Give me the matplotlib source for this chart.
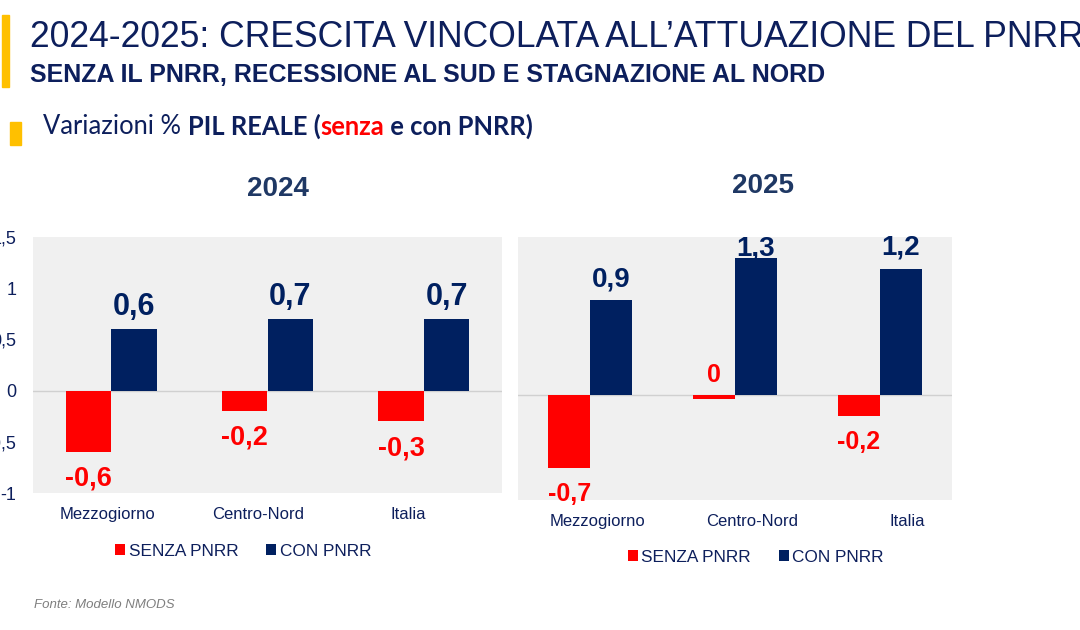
import matplotlib.pyplot as plt
from matplotlib.patches import Rectangle
from matplotlib.transforms import ScaledTranslation
import numpy as np

plt.rcParams['font.family'] = ['Liberation Sans', 'DejaVu Sans']

categories = ['Mezzogiorno', 'Centro-Nord', 'Italia']
senza_2024 = [-0.6, -0.2, -0.3]
con_2024 = [0.6, 0.7, 0.7]
senza_2025 = [-0.7, -0.04, -0.2]
con_2025 = [0.9, 1.3, 1.2]
senza_2024_lbl = ['-0,6', '-0,2', '-0,3']
con_2024_lbl = ['0,6', '0,7', '0,7']
senza_2025_lbl = ['-0,7', '0', '-0,2']
con_2025_lbl = ['0,9', '1,3', '1,2']
yticks = [-1, -0.5, 0, 0.5, 1, 1.5]
ytick_lbl = ['-1', '-0,5', '0', '0,5', '1', '1,5']

RED = '#FF0000'
NAVY = '#002060'
TXT = '#0D1F5C'
W, H = 1080, 630

fig = plt.figure(figsize=(10.8, 6.3), dpi=100)


def px(x, y):
    return x / W, 1 - y / H


# yellow markers
fig.patches.append(Rectangle(px(2, 87), 7 / W, 72 / H, transform=fig.transFigure, color='#FFC000'))
fig.patches.append(Rectangle(px(10, 145), 11 / W, 23 / H, transform=fig.transFigure, color='#FFC000'))

fig.text(*px(30, 47), "2024-2025: CRESCITA VINCOLATA ALL\u2019ATTUAZIONE DEL PNRR",
         fontsize=25.6, color=TXT, va='baseline')
fig.text(*px(30, 82), "SENZA IL PNRR, RECESSIONE AL SUD E STAGNAZIONE AL NORD",
         fontsize=18, color=TXT, va='baseline', fontweight='bold')

# subtitle with mixed styles
t1 = fig.text(*px(43, 139), "Variazioni % ", fontsize=18.4, color=TXT, va='bottom', family='Lato')
fig.canvas.draw()
r = fig.canvas.get_renderer()


def chain(prev, s, color):
    bb = prev.get_window_extent(r)
    return fig.text(bb.x1 / W, bb.y0 / H, s, fontsize=18.4, color=color, va='bottom',
                    family='Lato', fontweight='bold')


t2 = chain(t1, "PIL REALE (", TXT)
t3 = chain(t2, "senza", RED)
t4 = chain(t3, " e con PNRR)", TXT)

fig.text(*px(278, 196), "2024", fontsize=20, fontweight='bold', color='#1F3864',
         ha='center', va='baseline')
fig.text(*px(763, 193), "2025", fontsize=20, fontweight='bold', color='#1F3864',
         ha='center', va='baseline')

fig.text(*px(34, 608), "Fonte: Modello NMODS", fontsize=9.5, style='italic',
         color='#7F7F7F', va='baseline')


def panel(rect, ylim, senza, con, s_lbl, c_lbl, show_y, fs_blue, fs_red, leg_xy, lbl_shift):
    ax = fig.add_axes(rect)
    ax.set_facecolor('#F0F0F0')
    x = np.arange(len(categories))
    bw = 0.29
    ax.bar(x - bw / 2, senza, bw, color=RED, label='SENZA PNRR', zorder=3)
    ax.bar(x + bw / 2, con, bw, color=NAVY, label='CON PNRR', zorder=3)
    ax.axhline(0, color='#D0D0D0', lw=1, zorder=2)
    ax.set_xlim(-0.5, 2.5)
    ax.set_ylim(*ylim)
    for s in ax.spines.values():
        s.set_visible(False)
    ax.set_xticks(x)
    ax.set_xticklabels(categories, fontsize=12, color=TXT)
    ax.tick_params(axis='x', length=0, pad=10)
    for lab, dx in zip(ax.get_xticklabels(), lbl_shift):
        lab.set_transform(lab.get_transform() + ScaledTranslation(dx / 100, 0, fig.dpi_scale_trans))
    ax.set_yticks(yticks)
    if show_y:
        ax.set_yticklabels(ytick_lbl, fontsize=13, color=TXT)
        ax.tick_params(axis='y', length=0, pad=12)
    else:
        ax.tick_params(axis='y', length=0, labelleft=False)
    for i in range(len(categories)):
        gap = 2 if con[i] > 1.25 else 10
        ax.annotate(c_lbl[i], (x[i] + bw / 2, con[i]), xytext=(0, gap), textcoords='offset points',
                    ha='center', va='baseline', fontsize=fs_blue, fontweight='bold', color=NAVY)
        if senza[i] > -0.1:
            ax.annotate(s_lbl[i], (x[i] - bw / 2, 0), xytext=(0, 9), textcoords='offset points',
                        ha='center', va='baseline', fontsize=fs_red, fontweight='bold', color=RED)
        else:
            ax.annotate(s_lbl[i], (x[i] - bw / 2, senza[i]), xytext=(0, -10), textcoords='offset points',
                        ha='center', va='top', fontsize=fs_red, fontweight='bold', color=RED)
    ax.legend(loc='center', bbox_to_anchor=leg_xy, ncol=2, frameon=False, fontsize=12.4,
              handlelength=0.6, handleheight=0.6, handletextpad=0.2, columnspacing=1.6,
              labelcolor=TXT)
    return ax


panel([33 / W, 1 - 493 / H, 469 / W, 256 / H], (-1, 1.5), senza_2024, con_2024,
      senza_2024_lbl, con_2024_lbl, True, 22, 19.5, (0.448, -0.227), [-4, -9, -16])
panel([518 / W, 1 - 500 / H, 434 / W, 263 / H], (-0.98, 1.46), senza_2025, con_2025,
      senza_2025_lbl, con_2025_lbl, False, 20, 18, (0.548, -0.217), [7, 17, 28])

plt.savefig('out.png', dpi=100)
